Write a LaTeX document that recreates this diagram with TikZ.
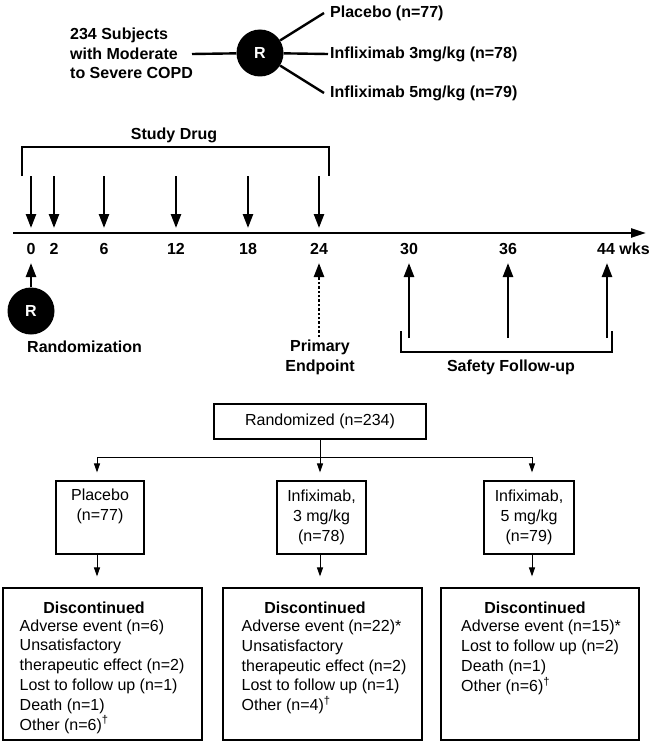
\documentclass[tikz,border=0pt]{standalone}
\usepackage{fontspec}
\setmainfont{Liberation Sans}
\usetikzlibrary{arrows.meta}

\begin{document}
\begin{tikzpicture}[x=1pt,y=-1pt,
  hbold/.style={font=\fontsize{16}{19.5}\selectfont\bfseries, inner sep=0pt},
  hreg/.style={font=\fontsize{16}{19.8}\selectfont, inner sep=0pt},
  heavy/.style={line width=2.4pt},
  bigarrow/.style={line width=2.4pt, -{Triangle[length=14pt,width=10pt]}},
  rdisk/.style={circle, fill=black, minimum size=47pt, inner sep=0pt,
                text=white, font=\fontsize{16}{19}\selectfont\bfseries},
  fbox/.style={draw, line width=1.1pt, inner sep=0pt, align=center,
               font=\fontsize{16}{19.8}\selectfont},
  flow/.style={line width=1pt},
  flowarrow/.style={line width=1pt, -{Triangle[length=9pt,width=6pt]}},
]
\useasboundingbox (0,0) rectangle (651,741);

% ---------- randomisation scheme ----------
\node[hbold, anchor=west, align=left] (subj) at (70,53.5)
  {234 Subjects\\with Moderate\\to Severe COPD};
\node[rdisk] (rtop) at (260,53) {R};
\coordinate (subjend) at (192,54);
\node[hbold, anchor=west] (armA) at (330,13) {Placebo (n=77)};
\node[hbold, anchor=west] (armB) at (330,54) {Infliximab 3mg/kg (n=78)};
\node[hbold, anchor=west] (armC) at (330,93) {Infliximab 5mg/kg (n=79)};
\draw[heavy] (subjend) -- (rtop);
\draw[heavy] (rtop) -- ([xshift=-6pt]armA.west);
\draw[heavy] (rtop) -- ([xshift=-2pt]armB.west);
\draw[heavy] (rtop) -- ([xshift=-6pt]armC.west);

% ---------- study timeline ----------
\node[hbold] (drug) at (174,135) {Study Drug};
\draw[heavy] (22,176) -- (22,147) -- (329,147) -- (329,176);

\coordinate (tstart) at (13,233);
\coordinate (tend) at (646,233);
\draw[line width=2.4pt, -{Triangle[length=15pt,width=9pt]}] (tstart) -- (tend);

\foreach \w/\x in {0/31, 2/54, 6/104, 12/176, 18/248, 24/319, 30/409, 36/508}
  \node[hbold] (wk\w) at (\x,249) {\w};
\node[hbold, anchor=west] (wk44) at (597,249) {44 wks};

% dosing arrows
\foreach \x in {31,54,104,176,248,319}
  \draw[bigarrow] (\x,176) -- (\x,228);

% randomisation
\node[rdisk] (rbot) at (31,311) {R};
\coordinate (rtip) at (31,263);
\draw[bigarrow] (rbot) -- (rtip);
\node[hbold, anchor=west] (randlbl) at (27,347) {Randomization};

% primary endpoint
\coordinate (pbase) at (319,337);
\coordinate (ptip) at (319,263);
\draw[line width=2.4pt, dash pattern=on 2.4pt off 2pt,
      -{Triangle[length=14pt,width=10pt]}] (pbase) -- (ptip);
\node[hbold, align=center] (primlbl) at (320,357.5) {Primary\\Endpoint};

% safety follow-up
\foreach \x in {409,508,607}
  \draw[bigarrow] (\x,338) -- (\x,263);
\draw[heavy] (401,331) -- (401,352) -- (612,352) -- (612,331);
\node[hbold] (safelbl) at (511,367) {Safety Follow-up};

% ---------- disposition flow chart ----------
\node[fbox, minimum width=212pt, minimum height=35pt] (rand) at (320,421.5)
  {Randomized (n=234)};
\coordinate (split) at (320,457);
\coordinate (splitL) at (97,457);
\coordinate (splitR) at (532,457);
\draw[flow] (rand.south) -- (split);
\draw[flow] (splitL) -- (splitR);

\node[fbox, minimum width=88pt, minimum height=73pt] (grpP) at (100,517.5)
  {Placebo\\(n=77)\\\strut};
\node[fbox, minimum width=89pt, minimum height=73pt] (grp3) at (321.5,517.5)
  {Infiximab,\\3 mg/kg\\(n=78)};
\node[fbox, minimum width=90pt, minimum height=73pt] (grp5) at (529,517.5)
  {Infiximab,\\5 mg/kg\\(n=79)};

\draw[flowarrow, shorten >=8pt] (splitL) -- (splitL |- grpP.north);
\draw[flowarrow, shorten >=8pt] (split) -- (split |- grp3.north);
\draw[flowarrow, shorten >=8pt] (splitR) -- (splitR |- grp5.north);

\node[fbox, minimum width=199pt, minimum height=152pt] (disP) at (102.5,664) {};
\node[fbox, minimum width=199pt, minimum height=152pt] (dis3) at (322.5,664) {};
\node[fbox, minimum width=198pt, minimum height=152pt] (dis5) at (540,664) {};

\draw[flowarrow, shorten >=11pt] (splitL |- grpP.south) -- (splitL |- disP.north);
\draw[flowarrow, shorten >=11pt] (split |- grp3.south) -- (split |- dis3.north);
\draw[flowarrow, shorten >=11pt] (splitR |- grp5.south) -- (splitR |- dis5.north);

\node[hbold] (hdP) at (94,608) {Discontinued};
\node[hbold] (hd3) at (315,608) {Discontinued};
\node[hbold] (hd5) at (535,608) {Discontinued};

\node[hreg, anchor=west, align=left] (lsP) at (19.5,676.5)
  {Adverse event (n=6)\\Unsatisfactory\\therapeutic effect (n=2)\\
   Lost to follow up (n=1)\\Death (n=1)\\Other (n=6)\textsuperscript{\textdagger}};
\node[hreg, anchor=west, align=left] (ls3) at (241.5,667)
  {Adverse event (n=22)*\\Unsatisfactory\\therapeutic effect (n=2)\\
   Lost to follow up (n=1)\\Other (n=4)\textsuperscript{\textdagger}};
\node[hreg, anchor=west, align=left] (ls5) at (461,657.5)
  {Adverse event (n=15)*\\Lost to follow up (n=2)\\Death (n=1)\\
   Other (n=6)\textsuperscript{\textdagger}};
\end{tikzpicture}
\end{document}
